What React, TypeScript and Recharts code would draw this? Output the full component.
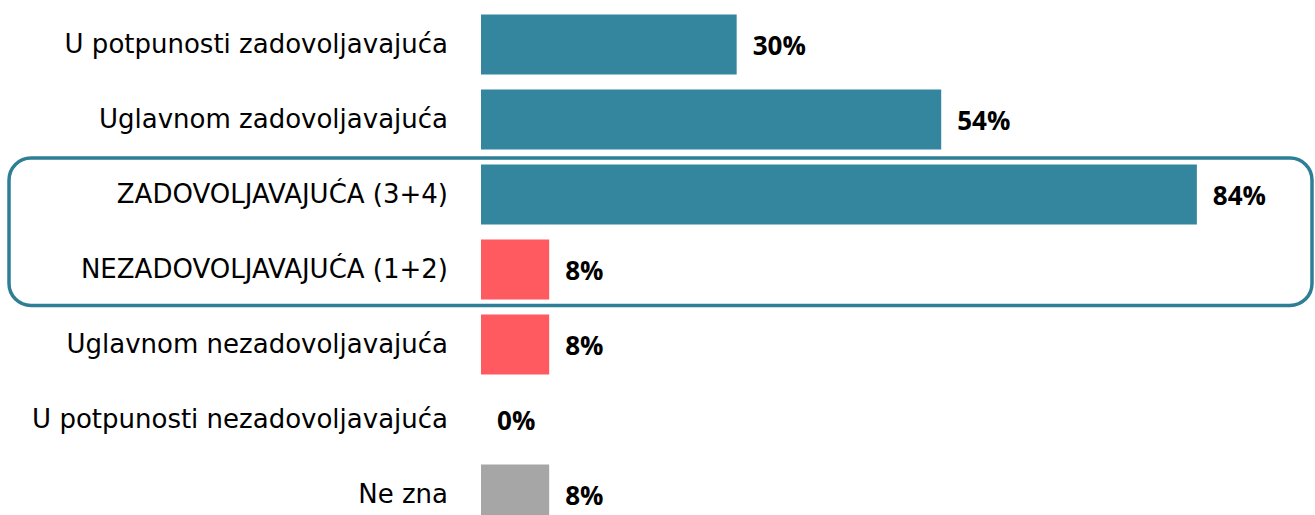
import React from "react";
import { BarChart, Bar, XAxis, YAxis, Cell, ReferenceArea } from "recharts";

const categories = [
  "U potpunosti zadovoljavajuća",
  "Uglavnom zadovoljavajuća",
  "ZADOVOLJAVAJUĆA (3+4)",
  "NEZADOVOLJAVAJUĆA (1+2)",
  "Uglavnom nezadovoljavajuća",
  "U potpunosti nezadovoljavajuća",
  "Ne zna",
];
const values = [30, 54, 84, 8, 8, 0, 8];
const colors = ["#33869D", "#33869D", "#33869D", "#FF5A5F", "#FF5A5F", "#FF5A5F", "#A6A6A6"];
const highlighted = ["ZADOVOLJAVAJUĆA (3+4)", "NEZADOVOLJAVAJUĆA (1+2)"];

const data = categories.map((name, i) => ({ name, value: values[i] }));

function ValueLabel(props: any) {
  const { x, y, width, height, value } = props;
  return (
    <text
      x={Number(x) + Number(width || 0) + 16}
      y={Number(y) + Number(height) / 2}
      dominantBaseline="central"
      fontFamily="'Open Sans', sans-serif"
      fontWeight={700}
      fontSize={26}
      fill="#000"
    >
      {value}%
    </text>
  );
}

function CategoryTick(props: any) {
  const { x, y, payload } = props;
  return (
    <text
      x={x}
      y={y}
      textAnchor="end"
      dominantBaseline="central"
      fontFamily="'DejaVu Sans', sans-serif"
      fontSize={26}
      fill="#000"
    >
      {payload.value}
    </text>
  );
}

// rounded outline around the two summary rows, spanning the full width
function HighlightBox(props: any) {
  const { y, height } = props;
  return (
    <rect
      x={9}
      y={y + 1.5}
      width={1303}
      height={height - 2.5}
      rx={22}
      ry={22}
      fill="none"
      stroke="#2E7F96"
      strokeWidth={3.5}
    />
  );
}

export default function App() {
  return (
    <div style={{ position: "absolute", left: 0, top: 0, width: 1315, height: 515, overflow: "hidden", background: "#fff" }}>
      <BarChart
        width={1315}
        height={540}
        data={data}
        layout="vertical"
        margin={{ top: 6.5, right: 67, bottom: 8.5, left: 0 }}
      >
        <XAxis type="number" domain={[0, 90]} hide />
        <YAxis
          type="category"
          dataKey="name"
          width={481}
          axisLine={false}
          tickLine={false}
          tickSize={0}
          tickMargin={33}
          interval={0}
          tick={<CategoryTick />}
        />
        <ReferenceArea
          y1={highlighted[0]}
          y2={highlighted[1]}
          ifOverflow="visible"
          shape={<HighlightBox />}
        />
        <Bar dataKey="value" barSize={60} minPointSize={0.01} isAnimationActive={false} label={<ValueLabel />}>
          {data.map((d, i) => (
            <Cell key={d.name} fill={colors[i]} />
          ))}
        </Bar>
      </BarChart>
    </div>
  );
}
